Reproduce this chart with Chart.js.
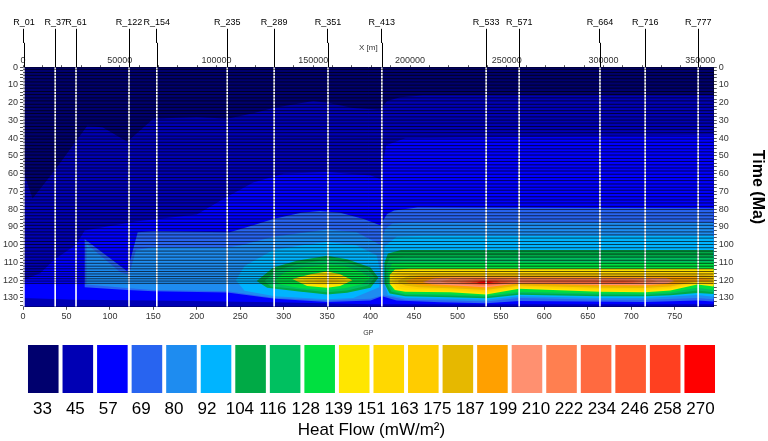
<!DOCTYPE html>
<html>
<head>
<meta charset="utf-8">
<script src="https://cdn.jsdelivr.net/npm/chart.js@4.4.1/dist/chart.umd.min.js"></script>
<style>
  html, body { margin: 0; padding: 0; background: #fff; }
  #wrap { width: 768px; height: 441px; }
  canvas { display: block; }
</style>
</head>
<body>
<div id="wrap">
  <canvas id="section" width="768" height="338"></canvas>
  <canvas id="scale" width="768" height="103"></canvas>
</div>
<script>
const FONT = "Arial, 'Liberation Sans', sans-serif";
Chart.defaults.font.family = FONT;

// wells along the section (name + GP position)
const wellNames = ['R_01', 'R_37', 'R_61', 'R_122', 'R_154', 'R_235', 'R_289', 'R_351', 'R_413', 'R_533', 'R_571', 'R_664', 'R_716', 'R_777'];
const wellGP = [1, 37, 61, 122, 154, 235, 289, 351, 413, 533, 571, 664, 716, 777];

// layer boundaries (Ma) drawn as thin black lines
const layerTimes = [1.2, 3.0, 4.6, 6.5, 8.3, 10.1, 11.8, 13.7, 15.4, 17.3, 19.0, 20.9, 22.6, 24.5, 26.1, 28.0,
  29.8, 31.5, 33.4, 35.2, 36.9, 38.8, 40.5, 42.3, 44.2, 46.0, 47.7, 49.5, 51.4, 53.1, 55.0, 56.8, 58.5,
  60.3, 62.2, 63.9, 65.8, 67.6, 69.3, 71.1, 73.0, 74.8, 76.5, 78.4, 80.2, 82.0, 83.7, 85.5, 87.4, 89.1,
  91.0, 92.8, 94.5, 96.3, 98.2, 99.9, 101.7, 103.6, 105.3, 107.0, 108.8, 110.5, 112.1, 113.6, 115.1,
  116.5, 117.9, 119.2, 120.5, 121.8];

// distance axis on top, metres
const xMeterMajor = 50000;
const xMeterMinor = 10000;
const xMeterLast = 350000;

// heat flow classes (mW/m2)
const legendTicks = [33, 45, 57, 69, 80, 92, 104, 116, 128, 139, 151, 163, 175, 187, 199, 210, 222, 234, 246, 258, 270];
const legendColors = ['#00006E', '#0000B4', '#0000FF', '#2864F0', '#1E8CF0', '#00B4FF', '#00AA46', '#00C060',
  '#00E040', '#FFE600', '#FFD800', '#FFCC00', '#E6B800', '#FFA000', '#FF9070', '#FF7F50', '#FF6A40',
  '#FF5A30', '#FF4020', '#FF0000'];

// contour areas as [GP, Ma] rings: each ring is where heat flow >= the class lower bound
const hf33 = [[0, 0], [795, 0], [795, 135], [0, 135]];
const hf45 = [[0, 58], [11, 74], [35, 59], [74, 33], [92, 34], [120, 42], [150, 29], [200, 28], [235, 29], [265, 26],
  [288, 23], [334, 19], [350, 20], [380, 23], [411, 24], [419, 19], [434, 17], [460, 16], [795, 16], [795, 135], [0, 135]];
const hf57 = [[0, 120], [20, 116], [37, 108], [61, 100], [71, 92], [130, 87], [200, 83], [235, 73], [265, 65], [300, 60],
  [350, 59], [400, 61], [411, 63], [418, 44], [440, 40], [795, 38], [795, 133.5], [400, 133.5], [290, 132.5],
  [150, 131.5], [60, 131], [0, 130]];
const hf69 = [[71, 124], [71, 97], [120, 115], [132, 93], [150, 92.5], [238, 93], [265, 89], [288, 85.5], [320, 82],
  [342, 81], [365, 82], [392, 85.5], [411, 89], [419, 82.7], [427, 80.8], [454, 79], [795, 79.5], [795, 132],
  [776, 131.5], [716, 132.3], [571, 131.8], [533, 133], [480, 132.5], [430, 131.5], [413, 129], [400, 131.5],
  [350, 132.3], [290, 130.5], [235, 127], [150, 126.2], [120, 125.5]];
const hf80 = [[73, 122.5], [73, 99.5], [112, 115.5], [122, 117], [130, 103], [150, 101.5], [235, 101.5], [250, 100.5],
  [288, 95.5], [350, 91.5], [384, 93], [411, 100], [417, 91], [425, 88], [450, 87.5], [795, 87.5], [795, 130.8],
  [776, 130], [716, 131], [664, 131], [571, 130], [533, 132], [492, 131.5], [440, 131], [414, 128.5], [400, 130.5],
  [350, 131.5], [290, 130], [235, 126.3], [150, 125.5], [122, 124.5]];
const hf92Dome = [[245, 120], [255, 112], [288, 103], [320, 100.5], [350, 98.5], [384, 100.5], [407, 106], [411, 115],
  [410, 124], [380, 130], [350, 130.8], [290, 129], [255, 126]];
const hf92Band = [[414, 118], [416, 101], [430, 95.5], [460, 95], [795, 95], [795, 129.3], [776, 128.3], [716, 130],
  [664, 130], [571, 129], [533, 131], [492, 130.5], [440, 130], [420, 128.3]];
const hf104Dome = [[269, 120.4], [288, 112.9], [315, 109.1], [350, 106.3], [373, 108.2], [400, 112.9], [409, 118.6],
  [400, 124.3], [373, 127.1], [350, 128.1], [315, 126.2], [281, 124.3]];
const hf104Band = [[416, 122], [416, 110], [420, 105], [435, 103], [795, 103], [795, 127.8], [776, 127.2], [745, 128.5],
  [716, 129], [664, 129], [571, 128.2], [533, 130.2], [492, 129.6], [440, 129], [422, 127.5]];
const hf116Dome = [[278, 120.5], [292, 114.5], [315, 111], [350, 108.5], [373, 110], [397, 114], [405, 118.6], [397, 123],
  [373, 125.8], [350, 126.8], [315, 125], [285, 123.5]];
const hf116Band = [[418, 121], [418, 112], [422, 107.5], [440, 106.8], [795, 106.8], [795, 126.8], [776, 125.8],
  [745, 127.7], [716, 128.3], [664, 128.2], [571, 127.3], [533, 129.4], [492, 128.8], [440, 128.3], [424, 126.5]];
const hf128Dome = [[290, 120], [300, 116], [320, 113], [350, 111], [370, 112], [390, 115.5], [400, 118.8], [390, 122.3],
  [370, 124.5], [350, 125.5], [320, 124.5], [296, 122.5]];
const hf128Band = [[420, 121], [420, 115], [425, 110.5], [440, 110], [795, 110], [795, 125.5], [776, 124.2], [745, 126.8],
  [716, 127.6], [664, 127.5], [571, 126.5], [533, 128.8], [492, 128], [440, 127.6], [426, 126]];
const hf139Dome = [[310, 119.4], [331, 116.6], [350, 115.1], [365, 116.6], [379, 120], [365, 123.3], [350, 124.3], [327, 123.3]];
const hf139Band = [[422, 122], [422, 117], [428, 114], [445, 113.5], [795, 113.5], [795, 123.5], [776, 122.5], [745, 125.8],
  [716, 126.8], [664, 126.5], [571, 124.9], [533, 128], [492, 126.8], [440, 126.5], [428, 125.5]];
const hf151Dome = [[322, 119.5], [340, 117.3], [355, 117], [368, 118.5], [372, 120.3], [360, 122.5], [340, 122.7], [328, 121.8]];
const hf151Band = [[425, 121.5], [425, 118], [432, 115.3], [450, 115], [795, 115], [795, 122.8], [776, 121.8], [745, 125],
  [716, 126], [664, 125.8], [571, 124.2], [533, 127.2], [492, 126], [440, 125.7], [430, 124.5]];
const hf163Dome = [[335, 120], [350, 118.3], [362, 119.3], [365, 120.7], [350, 122], [338, 121.3]];
const hf163Band = [[428, 121.5], [428, 119], [438, 116.4], [460, 116.2], [795, 116.2], [795, 122], [776, 121.2], [745, 124.3],
  [716, 125.2], [664, 125], [571, 123.6], [533, 126.4], [492, 125.3], [450, 124.9], [435, 123.8]];
const hf175 = [[432, 121.5], [432, 120], [445, 117.3], [470, 117], [780, 117], [795, 117.5], [795, 121.2], [776, 120.6],
  [745, 123.6], [716, 124.4], [664, 124.2], [571, 123], [533, 125.6], [492, 124.6], [455, 124], [440, 123]];
const hf187 = [[440, 120.5], [455, 118], [490, 117.8], [770, 118], [790, 119], [790, 120.5], [760, 121.5], [745, 122.8],
  [716, 123.6], [664, 123.4], [571, 122.3], [533, 124.8], [492, 123.8], [460, 123], [445, 122]];
const hf199 = [[460, 121], [475, 118.8], [500, 118.5], [740, 118.8], [750, 120.5], [740, 122], [716, 122.8], [664, 122.7],
  [571, 121.8], [533, 124], [492, 122.9], [470, 122.3]];
const hf210 = [[480, 120.8], [495, 119.2], [520, 118.8], [720, 119.3], [730, 120.6], [716, 122], [664, 122], [571, 121.3],
  [533, 123.4], [495, 122.2]];
const hf222 = [[500, 120.8], [520, 119.5], [545, 119.4], [570, 120.3], [640, 119.8], [700, 119.8], [715, 120.8], [700, 121.6],
  [640, 121.6], [571, 121], [533, 122.8], [505, 121.8]];
const hf234 = [[508, 121], [525, 120], [545, 120], [560, 121], [545, 122.2], [530, 122.4], [515, 121.9]];
const hf234b = [[660, 120.6], [690, 120.3], [705, 121], [690, 121.4], [665, 121.3]];
const hf246 = [[515, 121.2], [528, 120.2], [545, 120.5], [550, 121.3], [538, 122], [524, 122]];
const hf258 = [[522, 121.1], [532, 120.5], [542, 121], [535, 121.8], [526, 121.7]];

const contours = [
  [0, hf33], [1, hf45], [2, hf57], [3, hf69], [4, hf80],
  [5, hf92Dome], [5, hf92Band], [6, hf104Dome], [6, hf104Band], [7, hf116Dome], [7, hf116Band],
  [8, hf128Dome], [8, hf128Band], [9, hf139Dome], [9, hf139Band], [10, hf151Dome], [10, hf151Band],
  [11, hf163Dome], [11, hf163Band], [12, hf175], [13, hf187], [14, hf199], [15, hf210], [16, hf222],
  [17, hf234], [17, hf234b], [18, hf246], [19, hf258]
];

const GP_MAX = 795;
const X_M_MAX = 357000;
const MA_MAX = 135;

const contourSets = contours.map(([cls, ring]) => ({
  data: ring.map(([x, y]) => ({ x, y })),
  backgroundColor: legendColors[cls],
  borderColor: 'transparent',
  borderWidth: 0,
  pointRadius: 0,
  fill: 'shape',
  order: 100 - cls
}));

const wellSets = wellGP.map(gp => ({
  data: [{ x: gp, y: 0 }, { x: gp, y: MA_MAX }],
  borderColor: '#ffffff',
  borderWidth: 1.6,
  pointRadius: 0,
  fill: false,
  order: 1
}));

const layerSets = layerTimes.map(t => ({
  data: [{ x: 0, y: t }, { x: GP_MAX, y: t }],
  borderColor: 'rgba(0,0,0,0.65)',
  borderWidth: 1,
  pointRadius: 0,
  fill: false,
  order: 0
}));

// black leaders from the well names down to the section
const wellLinks = {
  id: 'wellLinks',
  afterDraw(chart) {
    const { ctx, chartArea, scales } = chart;
    ctx.save();
    ctx.strokeStyle = '#000';
    ctx.lineWidth = 1;
    wellGP.forEach(gp => {
      const x = Math.round(scales.x.getPixelForValue(gp)) + 0.5;
      ctx.beginPath();
      ctx.moveTo(x, scales.wells.bottom);
      ctx.lineTo(x, chartArea.top);
      ctx.stroke();
    });
    ctx.restore();
  }
};

const smallTicks = { size: 9, family: FONT };
const timeLabel = v => (v % 10 === 0 ? String(v) : '');

new Chart(document.getElementById('section'), {
  type: 'line',
  data: { datasets: [...contourSets, ...wellSets, ...layerSets] },
  plugins: [wellLinks],
  options: {
    responsive: false,
    animation: false,
    devicePixelRatio: 1,
    events: [],
    layout: { padding: { left: 1, right: 1, top: 16, bottom: 1 } },
    plugins: { legend: { display: false }, tooltip: { enabled: false } },
    scales: {
      x: {
        type: 'linear', position: 'bottom', min: 0, max: GP_MAX,
        ticks: { stepSize: 50, includeBounds: false, autoSkip: false, maxRotation: 0, font: smallTicks, color: '#333', padding: 1 },
        grid: { drawOnChartArea: false, tickLength: 3, color: '#555' },
        border: { color: '#000' },
        title: { display: true, text: 'GP', font: { size: 7 }, color: '#333', padding: { top: 6, bottom: 0 } }
      },
      xTop: {
        type: 'linear', position: 'top', weight: 0, min: 0, max: X_M_MAX,
        afterBuildTicks: axis => {
          const ticks = [];
          for (let v = 0; v <= xMeterLast; v += xMeterMinor) ticks.push({ value: v });
          axis.ticks = ticks;
        },
        ticks: { autoSkip: false, maxRotation: 0, font: smallTicks, color: '#333', padding: -1,
          callback: v => (v % xMeterMajor === 0 ? String(v) : '') },
        grid: { drawOnChartArea: false, tickLength: 2, color: '#555' },
        border: { color: '#000' },
        title: { display: true, text: 'X [m]', font: { size: 8 }, color: '#333', padding: { top: 0, bottom: 4 } }
      },
      wells: {
        type: 'linear', position: 'top', weight: 1, min: 0, max: GP_MAX,
        afterBuildTicks: axis => { axis.ticks = wellGP.map(v => ({ value: v })); },
        ticks: { autoSkip: false, maxRotation: 0, font: smallTicks, color: '#000', padding: 1,
          callback: (v, i) => wellNames[i] },
        grid: { drawOnChartArea: false, tickLength: 14, color: '#000' },
        border: { display: false }
      },
      y: {
        type: 'linear', position: 'left', reverse: true, min: 0, max: MA_MAX,
        ticks: { stepSize: 2, includeBounds: false, autoSkip: false, font: smallTicks, color: '#333', padding: 2, callback: timeLabel },
        grid: { drawOnChartArea: false, tickLength: 3, color: '#555' },
        border: { color: '#000' }
      },
      yRight: {
        type: 'linear', position: 'right', reverse: true, min: 0, max: MA_MAX,
        ticks: { stepSize: 2, includeBounds: false, autoSkip: false, font: smallTicks, color: '#333', padding: 2, callback: timeLabel },
        grid: { drawOnChartArea: false, tickLength: 3, color: '#555' },
        border: { color: '#000' },
        title: { display: true, text: 'Time (Ma)', font: { size: 16, weight: 'bold' }, color: '#000', padding: { top: 0, bottom: 12 } }
      }
    }
  }
});

// colour scale below the section
new Chart(document.getElementById('scale'), {
  type: 'bar',
  data: {
    labels: legendColors.map((c, i) => legendTicks[i] + '-' + legendTicks[i + 1]),
    datasets: [{
      data: legendColors.map(() => 1),
      backgroundColor: legendColors,
      barPercentage: 0.885,
      categoryPercentage: 1
    }]
  },
  options: {
    responsive: false,
    animation: false,
    devicePixelRatio: 1,
    events: [],
    layout: { padding: { left: 26, right: 51, top: 7, bottom: 0 } },
    plugins: { legend: { display: false }, tooltip: { enabled: false } },
    scales: {
      x: { display: false },
      y: { display: false, min: 0, max: 1 },
      bounds: {
        type: 'linear', position: 'bottom', min: 0, max: legendColors.length,
        ticks: { stepSize: 1, autoSkip: false, maxRotation: 0, font: { size: 17 }, color: '#000', padding: 6,
          callback: v => String(legendTicks[v]) },
        grid: { display: false, drawTicks: false },
        border: { display: false },
        title: { display: true, text: 'Heat Flow (mW/m²)', font: { size: 17 }, color: '#000', padding: { top: 0, bottom: 0 } }
      }
    }
  }
});
</script>
</body>
</html>
